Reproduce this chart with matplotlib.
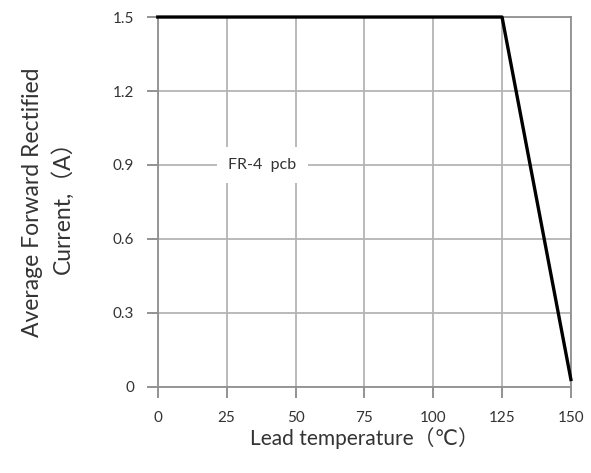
import matplotlib
matplotlib.use("Agg")
import matplotlib.pyplot as plt

# derating curve
temp = [0, 125, 150]
current = [1.5, 1.5, 0.03]

x_ticks = [0, 25, 50, 75, 100, 125, 150]
y_ticks = [0, 0.3, 0.6, 0.9, 1.2, 1.5]
y_tick_labels = ["0", "0.3", "0.6", "0.9", "1.2", "1.5"]

plt.rcParams['font.family'] = ['Lato', 'DejaVu Sans', 'Noto Sans CJK SC']

fig = plt.figure(figsize=(5.91, 4.73), dpi=100)
ax = fig.add_axes([0.267, 0.182, 0.699, 0.782])

ax.plot(temp, current, color="black", linewidth=2.4, zorder=3, clip_on=False)

ax.set_xlim(0, 150)
ax.set_ylim(0, 1.5)
ax.set_xticks(x_ticks)
ax.set_yticks(y_ticks)
ax.set_yticklabels(y_tick_labels)
ax.grid(True, color="#b4b4b4", linewidth=1.3)
ax.tick_params(direction="out", length=8, width=1.2, color="#808080",
               labelsize=11, labelcolor="#333333", pad=9)
for s in ax.spines.values():
    s.set_color("#909090")
    s.set_linewidth(1.3)

ax.text(38, 0.9, "FR-4  pcb", fontsize=11.5, color="#333333", ha="center", va="center",
        bbox=dict(facecolor="white", edgecolor="none", pad=8), zorder=4)

ax.set_xlabel("Lead temperature（℃）", fontsize=15, color="#333333", labelpad=2)
ax.set_ylabel("Average Forward Rectified\nCurrent,（A）", fontsize=16.5, color="#333333",
              labelpad=28, linespacing=1.45)

fig.savefig("out.png", dpi=100)
